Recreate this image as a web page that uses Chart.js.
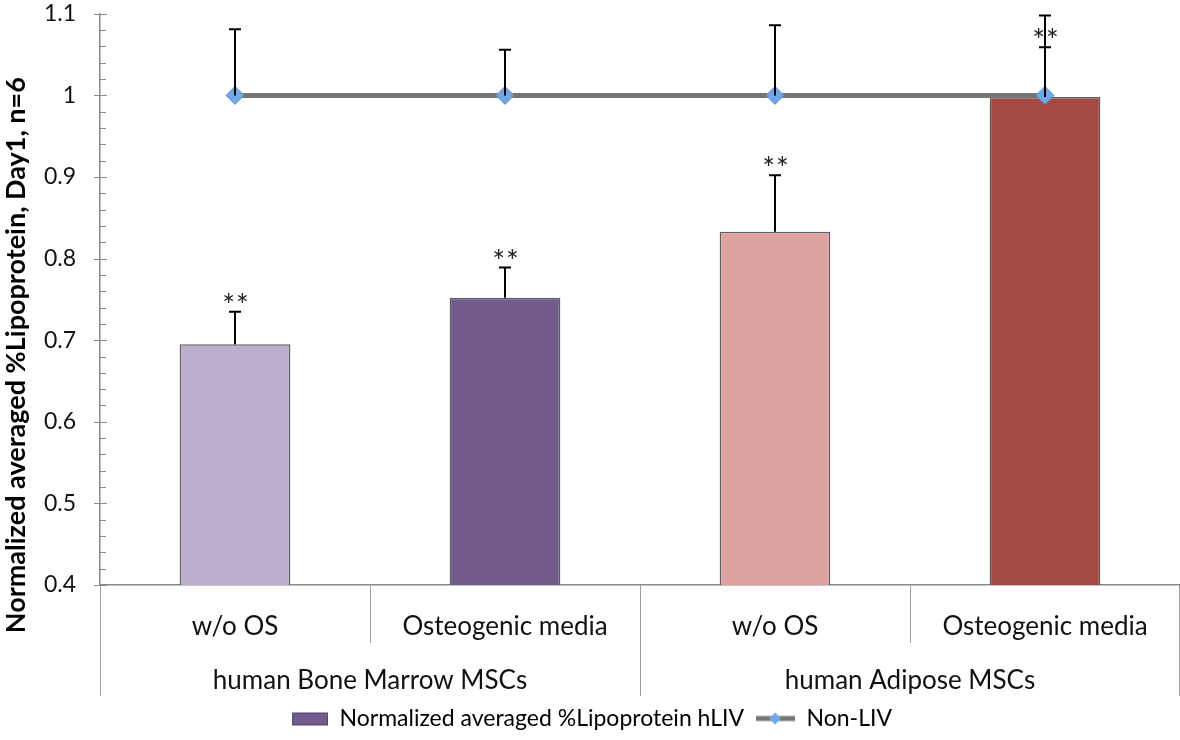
<!DOCTYPE html>
<html>
<head>
<meta charset="utf-8">
<script src="https://cdn.jsdelivr.net/npm/chart.js@4.4.1/dist/chart.umd.min.js"></script>
<style>
  html, body { margin: 0; padding: 0; background: #fff; }
  #wrap { width: 1180px; height: 740px; }
</style>
</head>
<body>
<div id="wrap"><canvas id="chart"></canvas></div>
<script>
const subgroups = ["w/o OS", "Osteogenic media", "w/o OS", "Osteogenic media"];
const groups = ["human Bone Marrow MSCs", "human Adipose MSCs"];
const hlivValues = [0.695, 0.752, 0.833, 0.998];
const hlivErrors = [0.040, 0.037, 0.069, 0.061];
const nonLivValues = [1, 1, 1, 1];
const nonLivErrors = [0.081, 0.056, 0.086, 0.098];
const significance = ["**", "**", "**", "**"];
const barColors = ["#bcaecf", "#725a8c", "#dea3a1", "#a24a43"];

const FONT = "Lato, 'Open Sans', sans-serif";
// trailing spaces push the rotated title down towards the bottom, like the original
const yTitle = "Normalized averaged %Lipoprotein, Day1, n=6" + "\u00a0".repeat(17);

// small icons for the legend (drawn at the right side of a 40px box)
function legendIcon(kind) {
    const c = document.createElement("canvas");
    c.width = 40;
    c.height = 16;
    const g = c.getContext("2d");
    if (kind === "bar") {
        g.fillStyle = "#725a8c";
        g.fillRect(4, 2, 36, 13);
        g.strokeStyle = "#54436a";
        g.lineWidth = 1;
        g.strokeRect(4.5, 2.5, 35, 12);
    } else {
        g.strokeStyle = "#757575";
        g.lineWidth = 5;
        g.beginPath();
        g.moveTo(1, 8);
        g.lineTo(40, 8);
        g.stroke();
        g.fillStyle = "#71a7e3";
        g.beginPath();
        g.moveTo(20, 2);
        g.lineTo(26, 8);
        g.lineTo(20, 14);
        g.lineTo(14, 8);
        g.closePath();
        g.fill();
    }
    return c;
}

const extras = {
    id: "extras",
    afterDraw(chart) {
        const ctx = chart.ctx;
        const x = chart.scales.x;
        const x2 = chart.scales.x2;
        const y = chart.scales.y;

        ctx.save();
        // y ticks: major across the axis, minor inside
        ctx.strokeStyle = "#8a8a8a";
        ctx.lineWidth = 1;
        for (let i = 0; i <= 35; i++) {
            const py = Math.round(y.getPixelForValue(0.4 + i * 0.02)) + 0.5;
            ctx.beginPath();
            if (i % 5 === 0) {
                ctx.moveTo(y.right - 6, py);
                ctx.lineTo(y.right + 7, py);
            } else {
                ctx.moveTo(y.right, py);
                ctx.lineTo(y.right + 6, py);
            }
            ctx.stroke();
        }

        // category separators under the x axis
        ctx.strokeStyle = "#a0a0a0";
        const half = (x.getPixelForValue(1) - x.getPixelForValue(0)) / 2;
        for (let i = 0; i <= subgroups.length; i++) {
            let px = Math.round(x.getPixelForValue(i) - half) + 0.5;
            if (px > chart.width) px = chart.width - 0.5;
            const bottom = i % 2 === 0 ? x2.bottom : x.bottom;
            ctx.beginPath();
            ctx.moveTo(px, x.top);
            ctx.lineTo(px, bottom);
            ctx.stroke();
        }
        ctx.restore();
    },
    afterDatasetsDraw(chart) {
        const ctx = chart.ctx;
        const x = chart.scales.x;
        const y = chart.scales.y;

        ctx.save();
        // error bars
        ctx.strokeStyle = "#000";
        ctx.lineWidth = 2;
        const drawErr = (i, v, e) => {
            const px = x.getPixelForValue(i);
            const y0 = y.getPixelForValue(v);
            const y1 = y.getPixelForValue(v + e);
            ctx.beginPath();
            ctx.moveTo(px, y0);
            ctx.lineTo(px, y1);
            ctx.moveTo(px - 6, y1);
            ctx.lineTo(px + 6, y1);
            ctx.stroke();
        };
        nonLivValues.forEach((v, i) => drawErr(i, v, nonLivErrors[i]));
        hlivValues.forEach((v, i) => drawErr(i, v, hlivErrors[i]));

        // significance marks
        ctx.fillStyle = "#222";
        ctx.font = "30px " + FONT;
        ctx.letterSpacing = "1px";
        ctx.textAlign = "center";
        ctx.textBaseline = "alphabetic";
        hlivValues.forEach((v, i) => {
            const px = x.getPixelForValue(i);
            const py = y.getPixelForValue(v + hlivErrors[i]) + 4;
            ctx.fillText(significance[i], px + 1, py);
        });
        ctx.restore();
    }
};

new Chart(document.getElementById("chart"), {
    data: {
        labels: subgroups,
        datasets: [{
            type: "line",
            label: "Non-LIV",
            data: nonLivValues,
            borderColor: "#757575",
            borderWidth: 5,
            pointStyle: "rectRot",
            pointRadius: 9,
            pointBackgroundColor: "#71a7e3",
            pointBorderColor: "#5c93d0",
            pointBorderWidth: 1,
            fill: false
        }, {
            type: "bar",
            label: "Normalized averaged %Lipoprotein hLIV",
            data: hlivValues,
            backgroundColor: barColors,
            borderColor: "#5e5e5e",
            borderWidth: 1.5,
            categoryPercentage: 1,
            barPercentage: 0.41
        }]
    },
    options: {
        responsive: true,
        maintainAspectRatio: false,
        animation: false,
        layout: { autoPadding: false, padding: { top: 13, right: 0, bottom: 0, left: 0 } },
        plugins: {
            tooltip: { enabled: false },
            legend: {
                position: "bottom",
                labels: {
                    usePointStyle: true,
                    pointStyleWidth: 40,
                    padding: 11,
                    color: "#111",
                    font: { family: FONT, size: 23 },
                    generateLabels: () => [
                        { text: "Normalized averaged %Lipoprotein hLIV", pointStyle: legendIcon("bar"), datasetIndex: 1, lineWidth: 0 },
                        { text: "Non-LIV", pointStyle: legendIcon("line"), datasetIndex: 0, lineWidth: 0 }
                    ]
                }
            }
        },
        scales: {
            x: {
                type: "category",
                offset: true,
                weight: 0,
                afterFit: s => { s.height = 58; },
                border: { display: true, color: "#8a8a8a", width: 1.5 },
                grid: { display: false, drawOnChartArea: false, drawTicks: false },
                ticks: { padding: 26, color: "#111", font: { family: FONT, size: 26 }, maxRotation: 0, autoSkip: false }
            },
            x2: {
                type: "category",
                labels: groups,
                position: "bottom",
                offset: true,
                weight: 1,
                afterFit: s => { s.height = 53; },
                border: { display: false },
                grid: { display: false, drawOnChartArea: false, drawTicks: false },
                ticks: { padding: 22, color: "#111", font: { family: FONT, size: 26 }, maxRotation: 0, autoSkip: false }
            },
            y: {
                min: 0.4,
                max: 1.1,
                afterFit: s => { s.width = 100; },
                border: { display: true, color: "#8a8a8a", width: 1.5 },
                grid: { drawOnChartArea: false, drawTicks: true, tickLength: 24, tickColor: "rgba(0,0,0,0)" },
                ticks: {
                    stepSize: 0.1,
                    padding: 0,
                    color: "#111",
                    font: { family: FONT, size: 23 },
                    callback: v => String(Number(v.toFixed(1)))
                },
                title: {
                    display: true,
                    text: yTitle,
                    color: "#000",
                    font: { family: FONT, size: 27, weight: "bold" },
                    padding: { top: 0, bottom: 0 }
                }
            }
        }
    },
    plugins: [extras]
});
</script>
</body>
</html>
